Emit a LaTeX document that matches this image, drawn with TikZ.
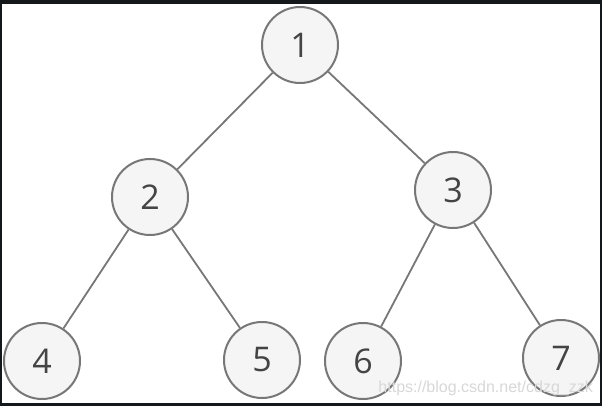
\documentclass[tikz,border=0pt]{standalone}
\usepackage{fontspec}
\setmainfont{Open Sans}
\newfontfamily\wmfont{Liberation Sans}
\definecolor{frame}{HTML}{15181B}
\definecolor{nodefill}{HTML}{F5F5F5}
\definecolor{nodeline}{HTML}{777777}
\definecolor{txt}{HTML}{444444}
\definecolor{wm}{HTML}{D8D8D8}
\tikzset{
  tnode/.style={circle, draw=nodeline, fill=nodefill, line width=2pt, minimum size=76pt, inner sep=0pt, text=txt, font=\fontsize{34}{38}\selectfont},
  tedge/.style={draw=nodeline, line width=1.8pt}
}
\begin{document}
\begin{tikzpicture}[x=1pt,y=-1pt]
\useasboundingbox (0,0) rectangle (602,406);
\fill[frame] (0,0) rectangle (602,406);
\fill[white] (2,4) rectangle (600,403);
\node[tnode] (n1) at (300,45) {1};
\node[tnode] (n2) at (150,197) {2};
\node[tnode] (n3) at (453,190) {3};
\node[tnode] (n4) at (42,361) {4};
\node[tnode] (n5) at (262,360) {5};
\node[tnode] (n6) at (363,361) {6};
\node[tnode] (n7) at (561,358) {7};
\draw[tedge] (n1) -- (n2);
\draw[tedge] (n1) -- (n3);
\draw[tedge] (n2) -- (n4);
\draw[tedge] (n2) -- (n5);
\draw[tedge] (n3) -- (n6);
\draw[tedge] (n3) -- (n7);
\node[text=wm, font=\wmfont\fontsize{16}{18}\selectfont, anchor=east, inner sep=0pt] (wm) at (593,388) {https://blog.csdn.net/cdzg\_zzk};
\end{tikzpicture}
\end{document}
